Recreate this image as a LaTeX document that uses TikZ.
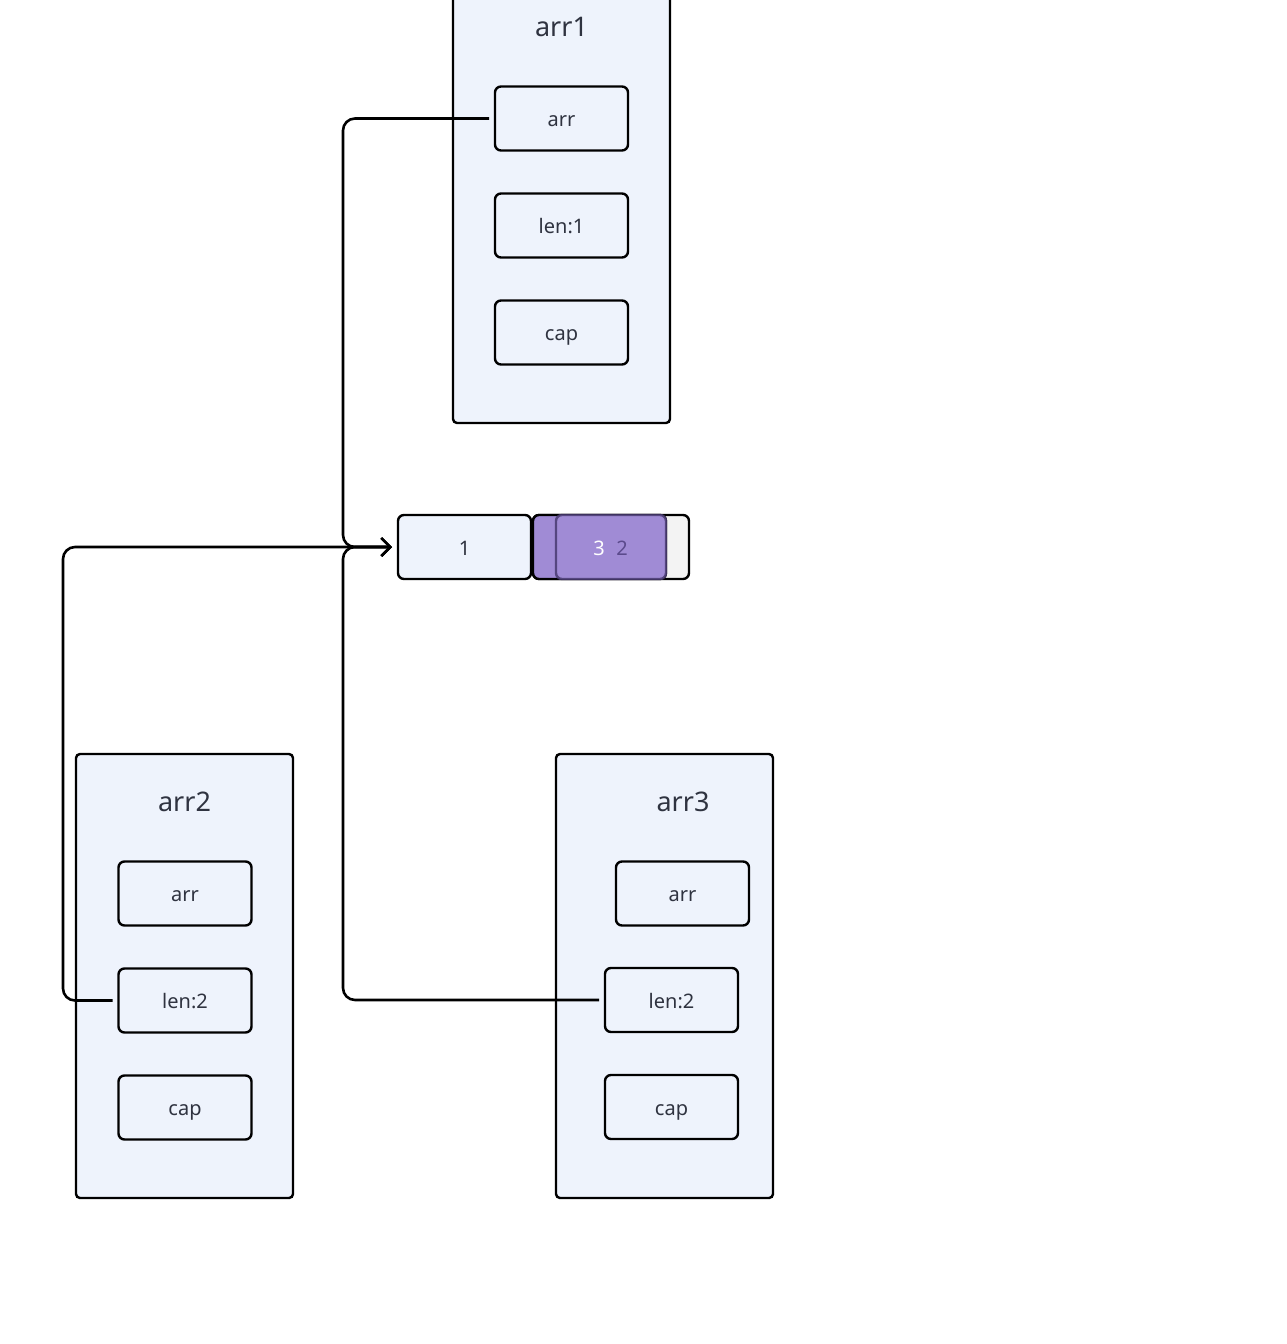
\documentclass[tikz,border=0pt]{standalone}
\usepackage{fontspec}
\setmainfont{Noto Sans}
\usetikzlibrary{arrows.meta,positioning,calc}
\definecolor{ink}{HTML}{2F3340}
\definecolor{pale}{HTML}{EEF3FC}
\definecolor{lilac}{HTML}{A08BD5}
\definecolor{plum}{HTML}{5B4A8C}
\definecolor{ash}{HTML}{F3F3F3}
\tikzset{
    frame/.style =  {rectangle,
                    rounded corners=4pt,
                    fill=pale,
                    draw=black,
                    line width=2.4pt,
                    outer sep=0pt,
                    minimum width=217pt,
                    minimum height=444pt},
    title/.style =  {text=ink,
                    font=\fontsize{27}{30}\selectfont},
    field/.style =  {rectangle,
                    rounded corners=6pt,
                    fill=pale,
                    draw=black,
                    line width=2.4pt,
                    text=ink,
                    outer sep=0pt,
                    text height=16pt,
                    text depth=0pt,
                    font=\fontsize{20}{24}\selectfont,
                    minimum width=133pt,
                    minimum height=64pt},
    cell/.style =   {field},
    link/.style =   {line width=2.6pt,
                    rounded corners=12pt,
                    shorten <=6pt},
    >={Straight Barb[length=9pt,width=18pt,line width=2.4pt]}}

\begin{document}
\begin{tikzpicture}[x=1pt,y=-1pt]
    \clip (0,0) rectangle (1286,1344);
    \fill[white] (0,0) rectangle (1286,1344);
    % the three slice headers
    \node[frame]       (arr1)   at (561.5,201)   {};
    \node[title]       (arr1t)  at (561.5,27)    {arr1};
    \node[field]       (arr1a)  at (561.5,118.5) {arr};
    \node[field]       (arr1l)  [below=43pt of arr1a] {len:1};
    \node[field]       (arr1c)  [below=43pt of arr1l] {cap};
    \node[frame]       (arr2)   at (184.5,976)   {};
    \node[title]       (arr2t)  at (184.5,802)   {arr2};
    \node[field]       (arr2a)  at (185,893.5)   {arr};
    \node[field]       (arr2l)  [below=43pt of arr2a] {len:2};
    \node[field]       (arr2c)  [below=43pt of arr2l] {cap};
    \node[frame]       (arr3)   at (664.5,976)   {};
    \node[title]       (arr3t)  at (683,802)     {arr3};
    \node[field]       (arr3a)  at (682.5,893.5) {arr};
    \node[field]       (arr3l)  at (671.5,1000)  {len:2};
    \node[field]       (arr3c)  [below=43pt of arr3l] {cap};
    % backing array
    \node[cell]        (c1)     at (464.5,547)   {1};
    \node[cell,fill=ash,minimum width=156pt] (c2) at (611,547) {};
    \node[cell,fill=lilac,minimum width=133pt] (c2a) at (599.5,547) {};
    \node[cell,fill=lilac,draw=plum!80!black,draw opacity=0.85,minimum width=110pt] (c2b) at (611,547) {};
    \node[cell,draw=none,fill=none,text=white,minimum width=0pt] (n3) at (599,547) {3};
    \node[cell,draw=none,fill=none,text=plum,minimum width=0pt] (n2) at (622,547) {2};
    \coordinate (hub)  at (343,547);
    \coordinate (far)  at (63,547);
    \draw[link,->,shorten >=6pt] (arr1a.west) -| (hub) -- (c1.west);
    \draw[link,->,shorten >=6pt] (arr2l.west) -| (far) -- (c1.west);
    \draw[link,->,shorten >=6pt] (arr3l.west) -| (hub) -- (c1.west);
\end{tikzpicture}
\end{document}
